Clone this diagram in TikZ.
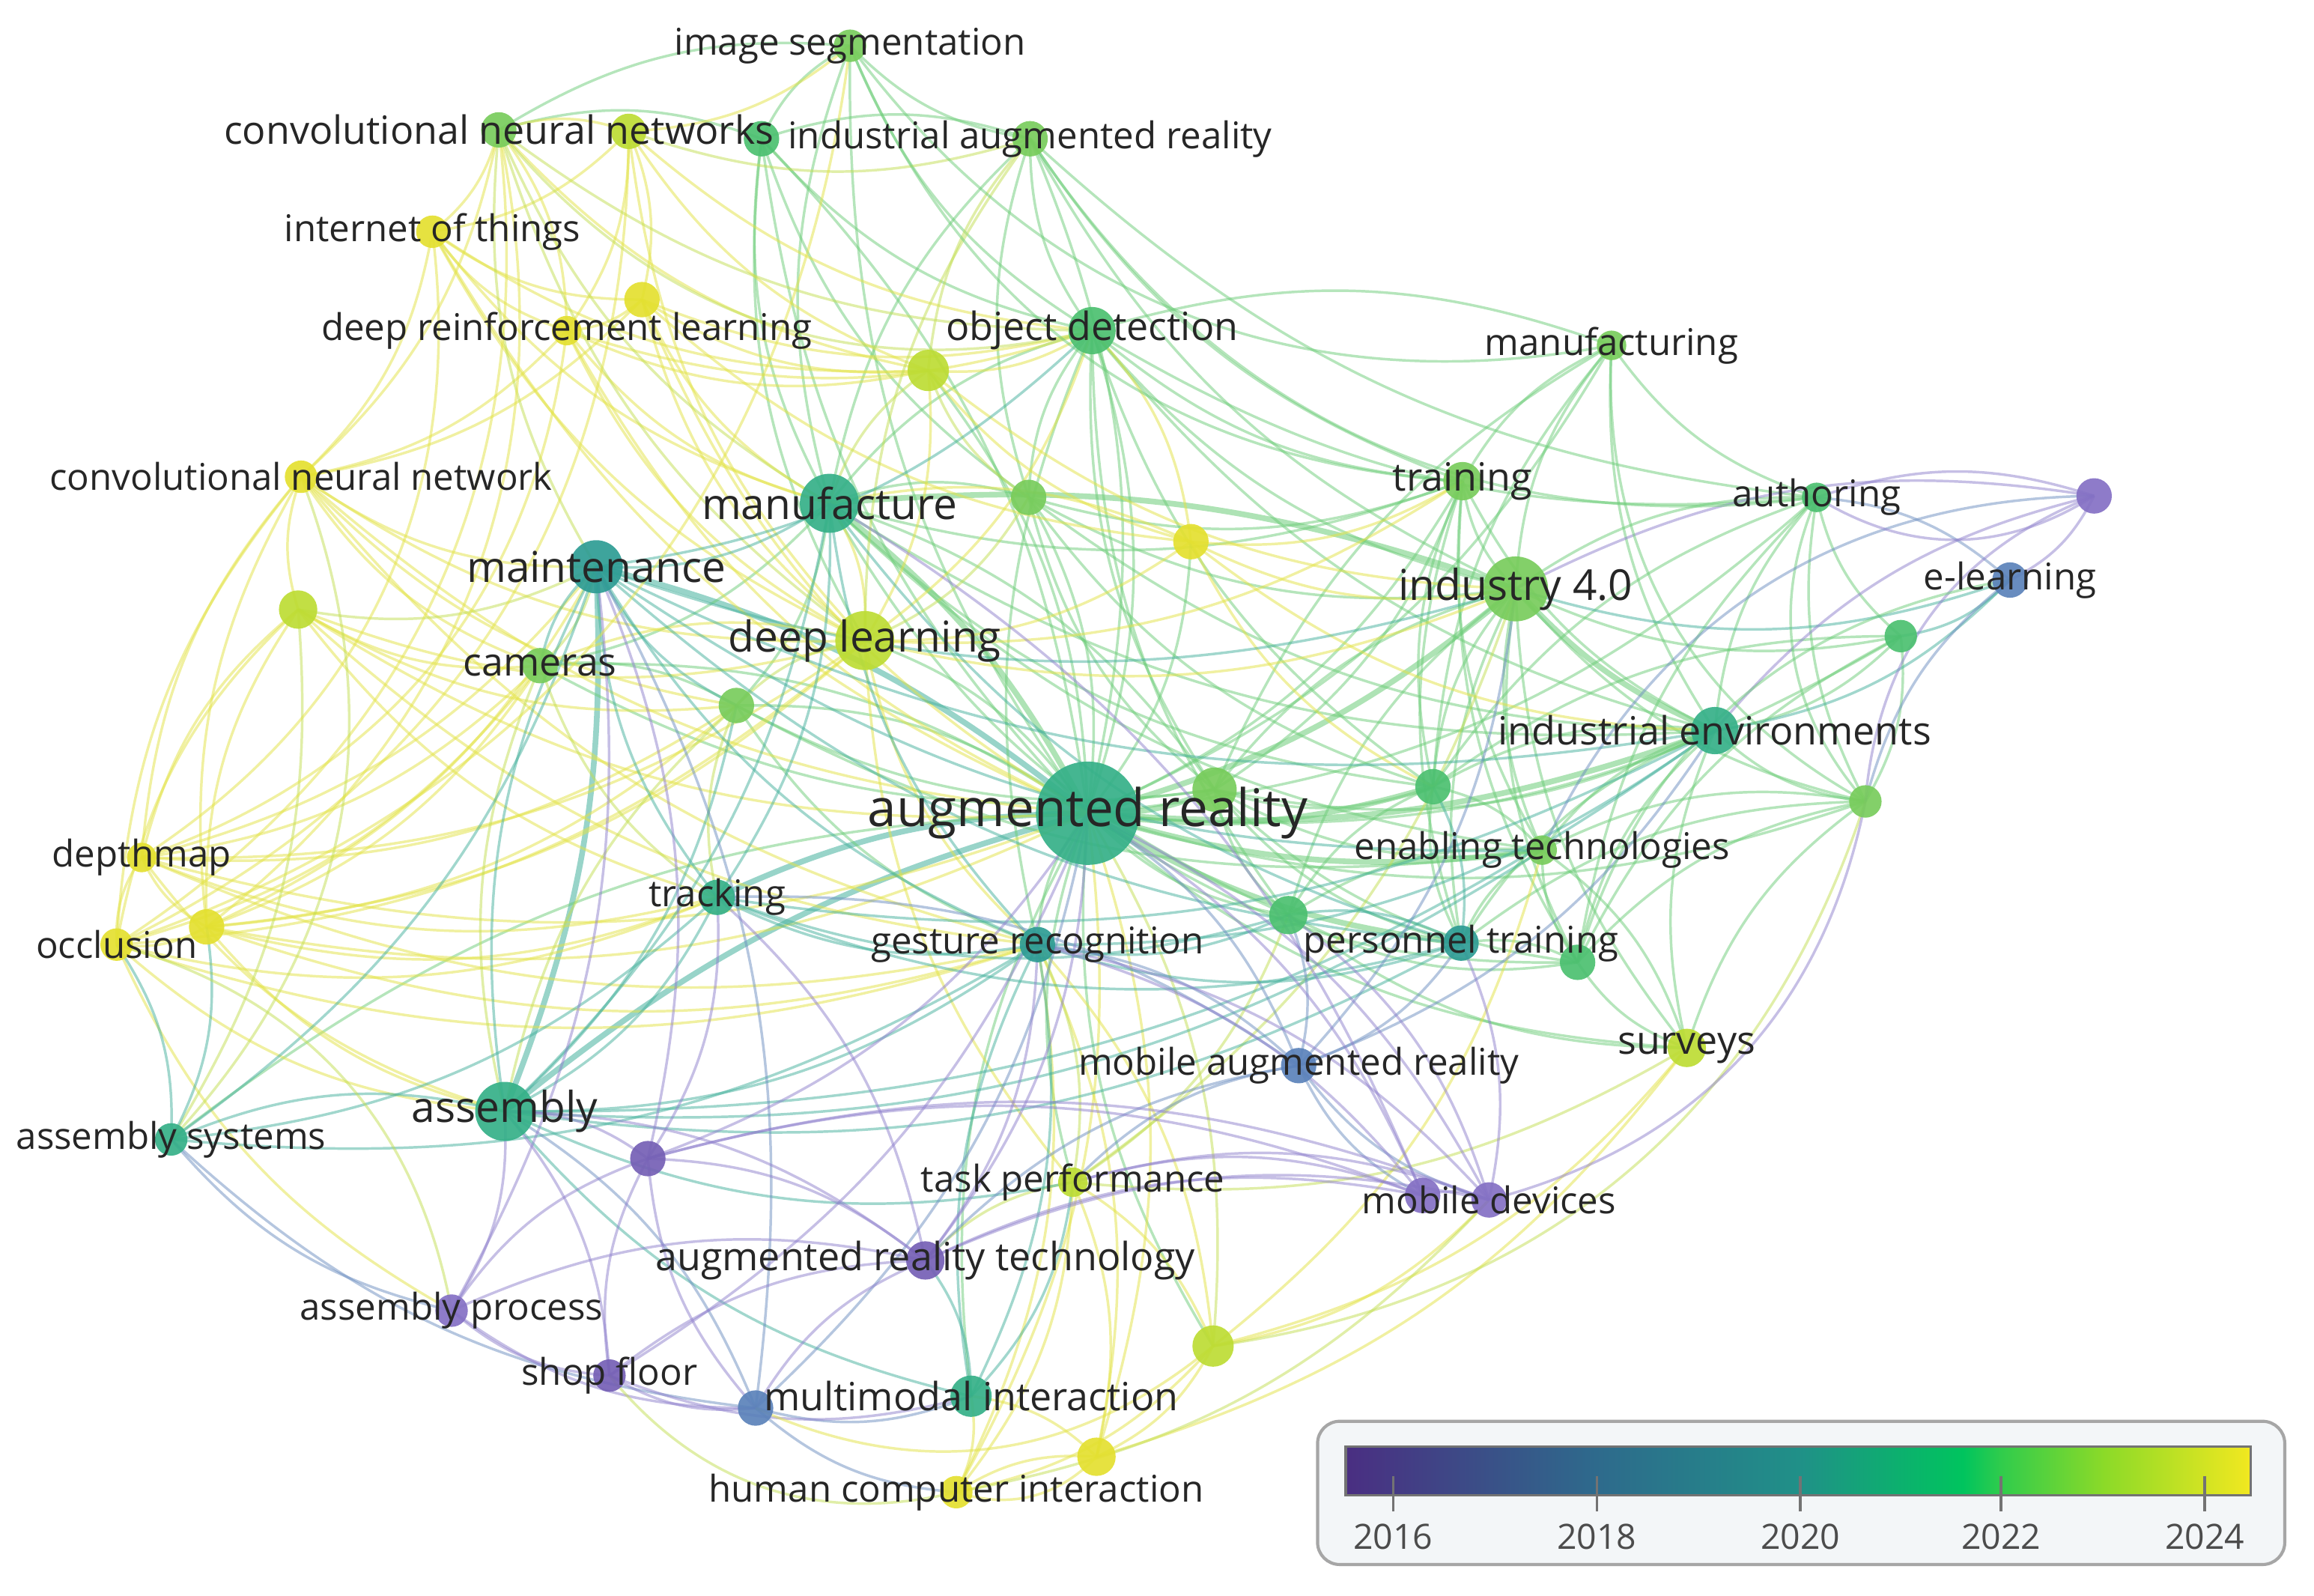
\documentclass[tikz,border=0pt]{standalone}
\usepackage{fontspec}
\setmainfont{Open Sans}
\usetikzlibrary{positioning}
\pgfdeclarelayer{links}
\pgfdeclarelayer{dots}
\pgfsetlayers{links,dots,main}
% node colours (viridis, light)
\definecolor{vPur}{HTML}{8470C4}
\definecolor{vPurD}{HTML}{7560B5}
\definecolor{vBlu}{HTML}{5B82BA}
\definecolor{vTea}{HTML}{2E9C94}
\definecolor{vTG}{HTML}{35B088}
\definecolor{vGrn}{HTML}{4CC070}
\definecolor{vLG}{HTML}{78CC5C}
\definecolor{vYG}{HTML}{BDDC34}
\definecolor{vYel}{HTML}{E4E030}
% link colours
\definecolor{lkY}{HTML}{E2E244}
\definecolor{lkYG}{HTML}{C2DE52}
\definecolor{lkG}{HTML}{6CCC78}
\definecolor{lkT}{HTML}{44B09C}
\definecolor{lkB}{HTML}{6C8EC0}
\definecolor{lkP}{HTML}{8E80CC}
\definecolor{txt}{HTML}{262626}
\definecolor{legfill}{HTML}{F3F6F8}
\definecolor{bar0}{HTML}{4A2E82}
\definecolor{bar1}{HTML}{2E6A8C}
\definecolor{bar2}{HTML}{209088}
\definecolor{bar3}{HTML}{00C45E}
\definecolor{bar4}{HTML}{30CC4C}
\definecolor{bar5}{HTML}{8CDA28}
\definecolor{bar6}{HTML}{F2E820}
\pgfdeclarehorizontalshading{viridis}{100bp}{color(0bp)=(bar0); color(25bp)=(bar0);
  color(38.8bp)=(bar1); color(50bp)=(bar2); color(59.1bp)=(bar3); color(61.2bp)=(bar4);
  color(66.9bp)=(bar5); color(75bp)=(bar6); color(100bp)=(bar6)}
\tikzset{
  kw/.style={font=\fontsize{7.1}{8}\selectfont, text=txt, inner sep=0pt},
  kwm/.style={font=\fontsize{7.5}{9}\selectfont, text=txt, inner sep=0pt},
  kwl/.style={font=\fontsize{8.2}{10}\selectfont, text=txt, inner sep=0pt},
  kwx/.style={font=\fontsize{10}{12}\selectfont, text=txt, inner sep=0pt},
  lk/.style={line width=0.5pt, draw opacity=0.5, bend right=18},
  lkw/.style={line width=1.1pt, draw opacity=0.55, bend right=12},
  lkl/.style={line width=0.5pt, draw opacity=0.5, bend right=32},
  yr/.style={font=\fontsize{6.7}{8}\selectfont, text=black!70, inner sep=0pt},
}
\begin{document}
\begin{tikzpicture}[x=0.01cm, y=-0.01cm]
  \useasboundingbox (0,0) rectangle (1568,1081);
  % keywords
  \node[kwx] (ar)   at (737,551)  {augmented reality};
  \node[kwl] (ind)  at (1027,399) {industry 4.0};
  \node[kwl] (mfe)  at (562,341)  {manufacture};
  \node[kwl] (mnt)  at (404,384)  {maintenance};
  \node[kwl] (dl)   at (586,434)  {deep learning};
  \node[kwl] (asm)  at (342,753)  {assembly};
  \node[kwm] (od)   at (740,224)  {object detection};
  \node[kwm] (trn)  at (991,326)  {training};
  \node[kw]  (mfg)  at (1092,234) {manufacturing};
  \node[kw]  (aut)  at (1231,337) {authoring};
  \node[kw]  (el)   at (1362,393) {e-learning};
  \node[kwm] (ie)   at (1162,495) {industrial environments};
  \node[kw]  (ent)  at (1045,576) {enabling technologies};
  \node[kw]  (pt)   at (990,639)  {personnel training};
  \node[kwm] (sur)  at (1143,710) {surveys};
  \node[kw]  (mar)  at (880,722)  {mobile augmented reality};
  \node[kw]  (md)   at (1009,813) {mobile devices};
  \node[kw]  (tp)   at (727,801)  {task performance};
  \node[kwm] (art)  at (627,854)  {augmented reality technology};
  \node[kwm] (mmi)  at (658,946)  {multimodal interaction};
  \node[kw]  (hci)  at (648,1011) {human computer interaction};
  \node[kw]  (sf)   at (413,932)  {shop floor};
  \node[kw]  (ap)   at (306,888)  {assembly process};
  \node[kw]  (asy)  at (116,772)  {assembly systems};
  \node[kw]  (occ)  at (79,640)   {occlusion};
  \node[kw]  (dm)   at (96,581)   {depthmap};
  \node[kw]  (trk)  at (486,608)  {tracking};
  \node[kw]  (gr)   at (703,640)  {gesture recognition};
  \node[kwm] (cam)  at (366,451)  {cameras};
  \node[kw]  (cnn)  at (204,323)  {convolutional neural network};
  \node[kw]  (drl)  at (384,224)  {deep reinforcement learning};
  \node[kw]  (iot)  at (293,157)  {internet of things};
  \node[kwm] (cnns) at (338,88)   {convolutional neural networks};
  \node[kw]  (iar)  at (698,94)   {industrial augmented reality};
  \node[kw]  (iseg) at (576,31)   {image segmentation};
  % keywords without label
  \coordinate (u1)  at (823,535);
  \coordinate (u2)  at (1419,336);
  \coordinate (u3)  at (1288,431);
  \coordinate (u4)  at (1264,543);
  \coordinate (u5)  at (971,533);
  \coordinate (u6)  at (873,620);
  \coordinate (u7)  at (1069,652);
  \coordinate (u8)  at (964,810);
  \coordinate (u9)  at (822,912);
  \coordinate (u10) at (512,954);
  \coordinate (u11) at (743,987);
  \coordinate (u12) at (439,785);
  \coordinate (u13) at (140,628);
  \coordinate (u14) at (499,478);
  \coordinate (u15) at (202,413);
  \coordinate (u16) at (435,203);
  \coordinate (u17) at (426,89);
  \coordinate (u18) at (516,94);
  \coordinate (u19) at (629,251);
  \coordinate (u20) at (697,337);
  \coordinate (u21) at (807,367);
  % dots
  \begin{pgfonlayer}{dots}
    \foreach \n/\r/\c in {ar/35/vTG, u1/15/vLG, ind/22/vLG, mfe/20/vTG, mnt/18/vTea,
        dl/20/vYG, od/16/vGrn, trn/13/vLG, mfg/10/vLG, aut/10/vGrn, u2/12/vPur,
        el/12/vBlu, u3/11/vGrn, ie/16/vTG, u4/11/vLG, u5/12/vGrn, ent/10/vLG,
        u6/13/vGrn, pt/12/vTea, u7/12/vGrn, sur/13/vYG, mar/12/vBlu, u8/12/vPur,
        md/12/vPur, tp/10/vYG, art/13/vPurD, u9/14/vYG, mmi/14/vTG, u10/12/vBlu,
        hci/11/vYel, u11/13/vYel, sf/11/vPurD, ap/11/vPur, u12/12/vPurD, asm/20/vTG,
        asy/11/vTG, occ/11/vYel, u13/12/vYel, dm/10/vYel, trk/12/vTG, gr/12/vTea,
        u14/12/vLG, cam/12/vLG, u15/13/vYG, cnn/11/vYel, drl/10/vYel, u16/12/vYel,
        iot/11/vYel, cnns/12/vLG, u17/12/vYG, u18/12/vGrn, iar/12/vLG, iseg/11/vLG,
        u19/14/vYG, u20/12/vLG, u21/12/vYel}
      \fill[\c, fill opacity=0.92] (\n.center) circle[radius=\r];
  \end{pgfonlayer}
  % links
  \begin{pgfonlayer}{links}
    \foreach \a/\b in {ar/ind, ar/mfe, ar/ie, ar/ent, ar/u5, ar/pt, ar/u1, ind/ie, ind/mfe}
      \draw[lkw, lkG] (\a.center) to (\b.center);
    \foreach \a/\b in {ar/asm, ar/mnt, ar/trk, asm/mnt}
      \draw[lkw, lkT] (\a.center) to (\b.center);
    \foreach \a/\b in {ar/od, ar/trn, ar/mfg, ar/aut, ar/u6, ar/u7, ar/u4, ar/u3,
        ar/gr, ar/tp, ar/u14, ar/cam, ar/u20, ar/u21, ar/u19, ar/iar, ar/u18, ar/mmi,
        ar/sur, ar/u9, ar/dl, ar/asy, iseg/cnns, iseg/u18, iseg/iar, iseg/od, iseg/mfe,
        iar/od, iar/mfe, iar/u18, iar/ind, iar/trn, u18/od, u18/mfe, u18/cnns,
        od/mfe, od/u20, od/ind, od/trn, od/gr, od/u1, mfg/ind, mfg/trn, mfg/aut,
        mfg/u5, mfg/od, mfg/u1, trn/ind, trn/u5, trn/ent, trn/ie, trn/pt,
        aut/ind, aut/u3, aut/ie, aut/u4, aut/u5, ind/u3, ind/u4, ind/ent,
        ind/u5, ind/pt, ind/u7, ind/u6, ind/u1, ie/u3, ie/u4, ie/ent,
        ie/u5, ie/pt, ie/u7, ie/sur, u4/ent, u4/u7, u4/sur, u4/u3, ent/u5, ent/pt,
        ent/u7, ent/u6, u7/sur, u7/pt, sur/ent, u1/u5, u1/u6, u1/mfe, u20/mfe,
        u20/ind, cam/mfe, u14/mfe, u14/cam, u14/gr, iar/aut, od/aut, od/ie,
        mfe/ie, mfe/trn, mfe/u5, u20/trn, u20/u5, u20/ie, u1/ie, u1/trn, u1/ent,
        u1/pt, u1/u7, u5/pt, u5/u6, ind/sur, aut/u7, mfg/ie, u3/u5, u3/u7, u4/pt,
        u6/u7, u6/sur, trn/u7, od/u5, u18/ar, u18/dl, mfe/u6, u20/u1, cam/u1,
        u14/u1, u14/ent, mfe/ent, od/u6, iar/u20, iseg/ar, u18/u20}
      \draw[lk, lkG] (\a.center) to (\b.center);
    \foreach \a/\b in {cnn/u15, cnn/dm, cnn/occ, cnn/u13, cnn/dl, cnn/mnt, cnn/cam,
        cnn/iot, cnn/drl, cnn/cnns, cnn/u16, u15/dm, u15/occ, u15/u13, u15/dl,
        u15/cam, u15/trk, dm/occ, dm/u13, dm/dl, dm/trk, dm/gr, dm/u14, dm/ar,
        occ/u13, occ/dl, occ/asm, occ/trk, u13/dl, u13/gr, u13/ar, u13/trk,
        u13/u14, iot/cnns, iot/u17, iot/drl, iot/u16, iot/dl, iot/mfe, drl/u16,
        drl/u17, drl/cnns, drl/dl, drl/u19, u16/u17, u16/dl, u16/u19, u16/mfe,
        u17/cnns, u17/iseg, u17/dl, dl/u19, dl/u21, dl/cam, dl/od, dl/mfe,
        u19/od, u19/u21, u21/ind, u21/trn, u21/od, u11/hci, u11/u9, u11/mmi,
        u11/tp, hci/u9, hci/mmi, hci/tp, u9/tp, u9/md, u9/sur, u9/gr,
        cnn/ar, u15/ar, cnn/gr, dm/mnt, occ/cam, u13/cam, u13/mnt, dm/cam,
        cnn/u14, u15/u14, iot/ar, drl/mfe, drl/ar, u16/ar, u16/od, u17/od,
        u17/u19, iot/u19, cnns/u19, dl/trn, dl/ind, u21/ie, u21/u5, u21/mfe,
        u19/ind, dl/gr, dl/tp, u11/ar, u11/gr, hci/gr, hci/ar, u11/sur,
        u9/ent, occ/ap, dm/asm, u15/gr, occ/gr, u13/asm, u16/u21, drl/od}
      \draw[lk, lkY] (\a.center) to (\b.center);
    \foreach \a/\b in {cnns/mfe, cnns/dl, cnns/mnt, u17/iar, dl/u14, dl/u20,
        u19/mfe, u19/u20, iar/u19, tp/gr, tp/art, tp/sur, cam/trk, cam/mnt,
        u15/mnt, asy/u15, u14/trk, tp/ind, u9/ar, cnns/od, iar/dl, u14/asm,
        cam/asm, tp/u6, hci/md}
      \draw[lk, lkYG] (\a.center) to (\b.center);
    \foreach \a/\b in {mnt/mfe, mnt/asm, mnt/cam, mnt/trk, mnt/u14, mnt/ind,
        mnt/ie, asm/trk, asm/asy, asm/mmi, asm/gr, asm/mfe, asm/u14, asm/tp,
        trk/gr, trk/mfe, gr/mmi, gr/u6, asy/occ, asy/u13, pt/u6, pt/u5,
        mmi/tp, mmi/art, ie/el, ind/el, u3/el, mnt/gr, mnt/pt, mnt/ent,
        asm/ie, asm/pt, trk/ie, gr/pt, gr/ie, asy/trk, asy/gr, mfe/gr,
        mfe/pt, trk/u6, mmi/gr, asm/ent, trk/pt, mnt/od, asy/mnt}
      \draw[lk, lkT] (\a.center) to (\b.center);
    \foreach \a/\b in {mar/ar, mar/gr, mar/u6, mar/pt, mar/art, mar/md, mar/u8,
        asy/ap, asy/u10, u10/mmi, u10/hci, u10/asm, el/aut, el/u4, mar/tp,
        mar/ind, u10/ar, u10/mnt, mar/ie, mar/trk}
      \draw[lk, lkB] (\a.center) to (\b.center);
    \foreach \a/\b in {el/u2, u2/aut, u2/ind, u2/ie, md/u8, md/art, md/pt,
        md/tp, md/u12, md/u6, u8/art, u8/u12, u8/ar, u8/gr, art/u12, art/sf,
        art/ap, art/u10, u12/ap, u12/sf, u12/asm, u12/u10, u12/mnt, ap/sf,
        ap/u10, ap/asm, sf/u10, sf/mmi, art/asm, art/trk, md/ar, u8/mfe,
        u12/ar, u12/trk, art/ar, art/gr, sf/ar, ap/mnt, sf/asm, u8/tp, md/gr}
      \draw[lk, lkP] (\a.center) to (\b.center);
    % long outer arcs
    \foreach \a/\b/\c in {occ/cnns/lkY, dm/iot/lkY, asy/cnn/lkYG, occ/iseg/lkY,
        ap/occ/lkYG, u13/cnns/lkY, dm/drl/lkY, occ/u17/lkY, iseg/mfg/lkG,
        iar/aut/lkG, cnns/od/lkYG, iseg/trn/lkG, mfg/u4/lkG, aut/u4/lkG,
        u2/u4/lkP, u2/ent/lkB, el/u7/lkG, aut/u2/lkP, hci/u11/lkY,
        u10/u9/lkY, sf/hci/lkYG, u9/u4/lkYG, md/u4/lkP}
      \draw[lkl, \c] (\a.center) to (\b.center);
  \end{pgfonlayer}
  % colour legend
  \node[draw=black!35, fill=legfill, rounded corners=0.15cm, line width=0.6pt,
    minimum width=6.55cm, minimum height=0.97cm, inner sep=0pt] (leg) at (1220.5,1011.5) {};
  \node[draw=black!55, shading=viridis, minimum width=6.13cm, minimum height=0.33cm,
    inner sep=0pt, line width=0.5pt] (bar) at (1218.5,996.5) {};
  \foreach \yr/\xp in {2016/944, 2018/1082, 2020/1220, 2022/1356, 2024/1494} {
    \coordinate (t\yr) at (\xp,1000);
    \draw[black!55, line width=0.5pt] (t\yr) -- ++(0,24);
    \node[yr] (y\yr) at (\xp,1041) {\yr};
  }
\end{tikzpicture}
\end{document}
